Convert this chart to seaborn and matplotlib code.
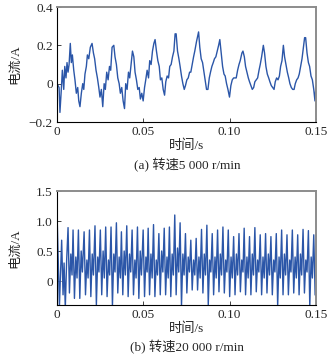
import numpy as np
import pandas as pd
import matplotlib
matplotlib.use("Agg")
import matplotlib.pyplot as plt
import seaborn as sns

# ---- data (a) 5000 r/min ----
top_t_ms = [0.0,1.2,1.7,2.5,3.1,3.9,4.5,5.2,5.8,6.4,7.0,7.7,8.3,8.9,9.7,10.4,11.2,12.0,12.6,13.3,
            14.1,14.9,15.5,16.2,17.0,17.6,18.4,19.3,20.3,21.1,21.8,22.6,23.4,24.2,24.9,25.7,26.5,27.3,28.0,28.8,
            29.6,30.4,31.1,31.9,32.9,33.6,34.4,35.2,36.0,36.7,37.5,38.3,39.1,39.8,40.6,41.4,42.1,42.9,43.7,44.5,
            45.2,46.0,46.8,47.6,48.3,49.1,49.9,50.7,51.4,52.2,53.0,53.7,54.5,55.3,56.1,56.8,57.6,58.4,59.2,59.9,
            60.7,61.5,62.3,63.0,63.8,64.6,65.3,66.1,66.9,67.7,68.4,69.0,69.8,70.6,71.3,72.1,72.9,73.7,74.4,75.2,
            76.0,76.8,77.5,78.3,79.1,79.8,80.8,82.0,82.7,83.5,84.3,85.1,85.8,86.6,87.4,88.2,88.9,89.7,90.5,91.2,
            92.0,92.8,93.6,94.3,95.1,95.9,96.7,97.4,98.2,99.0,99.9,100.7,101.5,102.3,103.0,103.8,104.6,105.4,106.1,107.1,
            107.7,108.5,109.2,110.0,110.8,111.5,112.3,113.1,113.9,114.6,115.4,116.2,117.0,117.7,118.5,119.5,120.2,121.0,121.8,122.6,
            123.3,124.1,124.9,125.7,126.4,127.2,128.0,128.8,129.5,130.3,131.1,131.8,132.6,133.4,134.2,134.9,135.7,136.5,137.3,138.0,
            138.8,139.6,140.3,141.1,141.9,142.7,143.4,144.0,144.8,145.6,146.3,147.1,147.9,148.7,149.4,150.0]
top_i = [0.00,-0.02,-0.15,-0.03,0.07,-0.03,0.09,0.03,0.11,0.06,0.10,0.21,0.11,0.15,0.07,0.02,-0.05,-0.02,-0.09,-0.12,
         -0.05,0.00,-0.03,0.05,0.09,0.15,0.13,0.19,0.21,0.16,0.13,0.07,0.03,-0.02,-0.07,-0.03,-0.12,0.00,-0.03,0.06,
         0.02,0.09,0.07,0.19,0.20,0.14,0.10,0.03,0.00,-0.05,-0.02,-0.09,-0.13,0.00,-0.03,0.06,0.03,0.10,0.17,0.14,
         0.06,0.02,-0.03,-0.02,-0.08,-0.05,-0.09,-0.02,0.02,0.07,0.03,0.12,0.10,0.17,0.21,0.23,0.17,0.12,0.09,0.02,
         0.03,-0.03,-0.06,0.01,0.04,0.03,0.09,0.10,0.14,0.17,0.26,0.26,0.17,0.13,0.09,0.04,0.00,-0.03,-0.01,0.02,
         0.03,0.06,0.06,0.10,0.14,0.17,0.22,0.27,0.19,0.13,0.11,0.06,0.02,-0.03,-0.03,0.03,0.06,0.09,0.11,0.13,
         0.14,0.17,0.20,0.23,0.16,0.09,0.05,0.04,0.00,-0.03,-0.07,-0.01,0.02,0.03,0.03,0.03,0.07,0.10,0.12,0.16,
         0.17,0.14,0.09,0.06,0.03,0.01,-0.01,-0.03,-0.02,0.01,0.02,0.03,0.07,0.10,0.14,0.20,0.16,0.09,0.05,0.03,
         0.01,-0.01,-0.02,-0.03,0.01,0.03,0.02,0.04,0.09,0.12,0.20,0.14,0.10,0.06,0.03,0.00,-0.02,-0.03,-0.03,0.00,
         0.02,0.03,0.05,0.09,0.13,0.19,0.24,0.24,0.16,0.11,0.09,0.04,0.02,-0.03,-0.09,-0.01]

# ---- data (b) 20000 r/min ----
bot_t_ms = [0.2,1.4,2.7,3.5,4.1,4.8,5.6,
            6.4,7.2,8.0,8.7, 9.3,10.1,10.9,11.6, 12.4,13.2,14.0,14.7, 15.7,16.5,17.3,18.0,
            18.8,19.6,20.4,21.1, 22.0,22.8,23.6,24.3, 25.1,25.9,26.7,27.4, 28.2,29.0,29.8,30.5,
            31.3,32.1,32.9,33.6, 34.4,35.2,36.0,36.7, 37.3,38.1,38.9,39.6, 40.4,41.2,42.0,42.7,
            43.5,44.3,45.1,45.8, 46.6,47.4,48.2,48.9, 49.9,50.7,51.5,52.2, 52.8,53.6,54.4,55.1,
            55.9,56.7,57.5,58.2, 59.0,59.8,60.6,61.3, 62.1,62.9,63.7,64.4, 65.1,65.9,66.7,67.4,
            68.2,69.0,69.8,70.5, 71.3,72.1,72.9,73.6, 74.4,75.2,76.0,76.7, 77.5,78.3,79.1,79.8,
            80.6,81.4,82.2,82.9, 83.7,84.5,85.3,86.0, 86.8,87.6,88.4,89.1, 89.9,90.7,91.5,92.2,
            93.0,93.8,94.6,95.3, 96.1,96.9,97.7,98.4, 99.2,100.0,100.8,101.5, 102.3,103.1,103.9,104.6,
            105.4,106.2,107.0,107.7, 108.4,109.2,110.0,110.7, 111.5,112.3,113.1,113.8, 114.6,115.4,116.2,116.9,
            117.7,118.5,119.3,120.0, 120.8,121.6,122.4,123.1, 123.9,124.7,125.5,126.2, 127.0,127.8,128.6,129.3,
            130.1,130.9,131.7,132.4, 133.2,134.0,134.8,135.5, 136.3,137.1,137.9,138.6, 139.4,140.2,141.0,141.7,
            142.5,143.3,144.1,144.8, 145.6,146.4,147.2,147.9, 148.7,149.5,150.0]
bot_i = [0.93,-0.42,0.68,-0.23,0.30,-0.45,0.35,
         0.89,-0.20,0.45,0.10, 0.85,-0.29,0.40,0.05, 0.85,-0.29,0.50,0.15, 0.82,-0.23,0.35,0.05,
         0.85,-0.26,0.45,0.10, 0.92,-0.40,0.40,0.15, 0.85,-0.23,0.50,0.05, 0.90,-0.26,0.35,0.10,
         0.90,-0.42,0.45,0.15, 0.97,-0.20,0.40,0.05, 0.82,-0.23,0.50,0.10, 0.92,-0.26,0.45,0.15,
         0.85,-0.23,0.35,0.05, 0.90,-0.29,0.50,0.10, 0.85,-0.26,0.40,0.15, 0.88,-0.23,0.45,0.05,
         0.94,-0.26,0.35,0.10, 0.79,-0.23,0.50,0.15, 0.88,-0.23,0.40,0.05, 0.90,-0.26,0.45,0.10,
         1.10,-0.23,0.55,0.15, 0.97,-0.42,0.45,0.10, 0.79,-0.20,0.40,0.15, 0.68,-0.15,0.35,0.10,
         0.71,-0.15,0.40,0.05, 0.86,-0.20,0.45,0.10, 0.93,-0.40,0.35,0.15, 0.79,-0.23,0.40,0.05,
         0.85,-0.18,0.45,0.10, 0.90,-0.20,0.35,0.15, 0.85,-0.26,0.40,0.05, 0.74,-0.23,0.45,0.10,
         0.79,-0.18,0.35,0.15, 0.88,-0.23,0.40,0.05, 0.74,-0.23,0.45,0.10, 0.89,-0.18,0.35,0.15,
         0.77,-0.23,0.40,0.05, 0.79,-0.20,0.45,0.10, 0.74,-0.23,0.35,0.15, 0.79,-0.42,0.40,0.05,
         0.85,-0.23,0.45,0.10, 0.77,-0.23,0.35,0.15, 0.85,-0.20,0.40,0.05, 0.77,-0.23,0.45,0.10,
         0.86,-0.20,0.35,0.15, 0.84,-0.42,0.40,0.05, 0.77,-0.23,-0.25]

x_ticks = [0, 0.05, 0.10, 0.15]
x_ticklabels = ["0", "0.05", "0.10", "0.15"]
top_yticks = [-0.2, 0, 0.2, 0.4]
top_yticklabels = ["\u22120.2", "0", "0.2", "0.4"]
bot_yticks = [0, 0.5, 1.0, 1.5]
bot_yticklabels = ["0", "0.5", "1.0", "1.5"]
xlabel = "时间/s"
ylabel = "电流/A"
caption_a = "(a) 转速5 000 r/min"
caption_b = "(b) 转速20 000 r/min"

sns.set_style("white")
plt.rcParams['font.family'] = ['Liberation Serif', 'Noto Sans CJK SC', 'DejaVu Sans']
plt.rcParams['axes.unicode_minus'] = True

color = "#2b56a8"
fig = plt.figure(figsize=(3.28, 3.60), dpi=100)
ax1 = fig.add_axes([57/328, 1-122/360, (316-57)/328, (122-7)/360])
ax2 = fig.add_axes([57/328, 1-305/360, (316-57)/328, (305-191)/360])

df_a = pd.DataFrame({"t": np.array(top_t_ms)/1000.0, "i": top_i})
df_b = pd.DataFrame({"t": np.array(bot_t_ms)/1000.0, "i": bot_i})

sns.lineplot(data=df_a, x="t", y="i", ax=ax1, color=color, lw=1.0, sort=False, estimator=None)
sns.lineplot(data=df_b, x="t", y="i", ax=ax2, color=color, lw=1.0, sort=False, estimator=None)

fs = 9.5
for ax, yt, ytl, ylim in [(ax1, top_yticks, top_yticklabels, (-0.2, 0.4)),
                          (ax2, bot_yticks, bot_yticklabels, (-0.4, 1.5))]:
    ax.set_xlim(0, 0.15)
    ax.set_ylim(*ylim)
    ax.set_xticks(x_ticks)
    ax.set_xticklabels(x_ticklabels, fontsize=fs)
    ax.set_yticks(yt)
    ax.set_yticklabels(ytl, fontsize=fs)
    ax.tick_params(direction="in", length=3, width=0.6, pad=3, bottom=True, left=True, top=False, right=False)
    ax.set_xlabel(xlabel, fontsize=fs, labelpad=1)
    ax.set_ylabel(ylabel, fontsize=fs)
    ax.yaxis.set_label_coords(-0.14, 0.5)
    for s in ["left", "bottom"]:
        ax.spines[s].set_color("black")
        ax.spines[s].set_linewidth(0.8)
    for s in ["top", "right"]:
        ax.spines[s].set_color("#8c8c8c")
        ax.spines[s].set_linewidth(1.4)

fig.text(187/328, 1-165/360, caption_a, ha="center", va="center", fontsize=fs)
fig.text(187/328, 1-347/360, caption_b, ha="center", va="center", fontsize=fs)

fig.savefig("out.png", dpi=100, facecolor="white")
